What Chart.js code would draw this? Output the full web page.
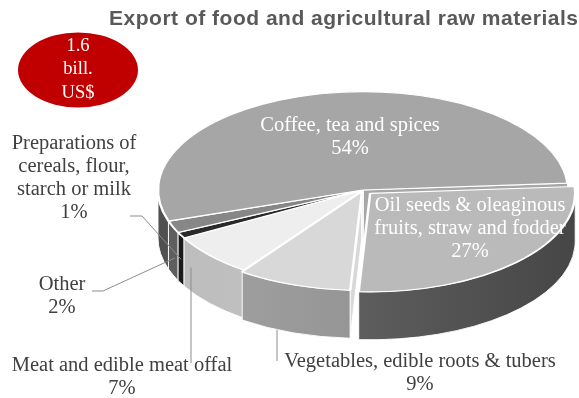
<!DOCTYPE html>
<html>
<head>
<meta charset="utf-8">
<script src="https://cdn.jsdelivr.net/npm/chart.js@4/dist/chart.umd.min.js"></script>
<style>
  html, body { margin: 0; padding: 0; background: #fff; }
  #wrap { width: 579px; height: 398px; }
</style>
</head>
<body>
<div id="wrap"><canvas id="chart" width="579" height="398"></canvas></div>
<script>
(() => {
  'use strict'

  const chartTitle = 'Export of food and agricultural raw materials';

  // slices, clockwise from the right-hand edge
  const categories = [
    'Oil seeds & oleaginous fruits, straw and fodder',
    'Vegetables, edible roots & tubers',
    'Meat and edible meat offal',
    'Preparations of cereals, flour, starch or milk',
    'Other',
    'Coffee, tea and spices'
  ];
  const shares = [27, 9, 7, 1, 2, 54];
  const totalExport = '1.6 bill. US$';

  const labelLines = [
    ['Oil seeds & oleaginous', 'fruits, straw and fodder'],
    ['Vegetables, edible roots & tubers'],
    ['Meat and edible meat offal'],
    ['Preparations of', 'cereals, flour,', 'starch or milk'],
    ['Other'],
    ['Coffee, tea and spices']
  ];

  const topColors = ['#bababa', '#d8d8d8', '#eeeeee', '#2a2a2a', '#878787', '#a6a6a6'];
  const wallColors = [
    ['#727272', '#464646'],
    ['#a4a4a4', '#858585'],
    ['#bcbcbc', '#cdcdcd'],
    ['#1c1c1c', '#111111'],
    ['#5e5e5e', '#5e5e5e'],
    ['#505050', '#505050']
  ];
  const explode = [40, 12, 0, 0, 0, 0];

  const TILT = 0.48;
  const DEPTH = 48;
  const TEXT = '#404040';
  const SERIF = '"Liberation Serif", "Times New Roman", serif';
  const LINE = 23;

  // where each label sits; leaders end on the slice wall
  const labelLayout = [
    { x: 470, y: 206, inside: true },
    { x: 420, y: 362, leader: { x: 277, from: 361, depth: 1 } },
    { x: 122, y: 366, leader: { x: 191, from: 363, depth: 0.5 } },
    { x: 74, y: 144, leader: { pts: [[130, 216], [142, 216]], frac: 0.5, depth: 0.5 } },
    { x: 62, y: 285, leader: { pts: [[92, 291], [103, 291]], frac: 0.3, depth: 0.6 } },
    { x: 350, y: 126, inside: true }
  ];

  function arcGeom(arc) {
    // same shift ArcElement.draw applies for the offset option
    const p = arc.getProps(['x', 'y', 'startAngle', 'endAngle', 'outerRadius', 'circumference'], true);
    const off = (arc.options.offset || 0) / 4;
    const fix = 1 - Math.sin(Math.min(Math.PI, p.circumference || 0));
    const mid = (p.startAngle + p.endAngle) / 2;
    const t = off + off * fix;
    return {
      cx: p.x + Math.cos(mid) * t,
      cy: p.y + Math.sin(mid) * t * TILT,
      r: p.outerRadius,
      a0: p.startAngle,
      a1: p.endAngle,
      mid: mid
    };
  }

  function rim(g, a) {
    return [g.cx + g.r * Math.cos(a), g.cy + g.r * TILT * Math.sin(a)];
  }

  function wallFill(ctx, g, i) {
    const grad = ctx.createLinearGradient(g.cx - g.r, 0, g.cx + g.r, 0);
    grad.addColorStop(0, wallColors[i][0]);
    grad.addColorStop(1, wallColors[i][1]);
    return grad;
  }

  function drawWall(ctx, g, from, to) {
    ctx.beginPath();
    ctx.ellipse(g.cx, g.cy, g.r, g.r * TILT, 0, from, to);
    ctx.ellipse(g.cx, g.cy + DEPTH, g.r, g.r * TILT, 0, to, from, true);
    ctx.closePath();
    ctx.fill();
    ctx.stroke();
  }

  function drawCut(ctx, g, a) {
    const [x, y] = rim(g, a);
    ctx.beginPath();
    ctx.moveTo(g.cx, g.cy);
    ctx.lineTo(x, y);
    ctx.lineTo(x, y + DEPTH);
    ctx.lineTo(g.cx, g.cy + DEPTH);
    ctx.closePath();
    ctx.fill();
    ctx.stroke();
  }

  const pie3d = {
    id: 'pie3d',
    beforeDatasetsDraw(chart) {
      const ctx = chart.ctx;
      const arcs = chart.getDatasetMeta(0).data;
      const geoms = arcs.map(arcGeom);
      const order = geoms.map((g, i) => i).sort((a, b) => Math.sin(geoms[a].mid) - Math.sin(geoms[b].mid));

      ctx.save();
      ctx.strokeStyle = 'rgba(255,255,255,0.9)';
      ctx.lineWidth = 1;
      ctx.lineJoin = 'round';
      order.forEach(i => {
        const g = geoms[i];
        ctx.fillStyle = topColors[i];
        if (Math.cos(g.a0) < 0) drawCut(ctx, g, g.a0);
        if (Math.cos(g.a1) > 0) drawCut(ctx, g, g.a1);
        ctx.fillStyle = wallFill(ctx, g, i);
        // front half of the rim, in every turn the angles may fall into
        [-2, 0, 2].forEach(k => {
          const lo = Math.max(g.a0, k * Math.PI);
          const hi = Math.min(g.a1, (k + 1) * Math.PI);
          if (hi > lo) drawWall(ctx, g, lo, hi);
        });
      });
      ctx.restore();

      // squash the library's own arcs into the tilted top face
      const cy = (chart.chartArea.top + chart.chartArea.bottom) / 2;
      ctx.save();
      ctx.translate(0, cy);
      ctx.scale(1, TILT);
      ctx.translate(0, -cy);
    },
    afterDatasetsDraw(chart) {
      const ctx = chart.ctx;
      ctx.restore();

      const geoms = chart.getDatasetMeta(0).data.map(arcGeom);
      ctx.save();
      ctx.textAlign = 'center';
      ctx.textBaseline = 'middle';
      ctx.font = '20.5px ' + SERIF;

      labelLayout.forEach((lay, i) => {
        const g = geoms[i];
        const lines = labelLines[i].concat([shares[i] + '%']);
        ctx.fillStyle = lay.inside ? '#ffffff' : TEXT;
        lines.forEach((line, j) => ctx.fillText(line, lay.x, lay.y + j * LINE));

        const ld = lay.leader;
        if (!ld) return;
        let pts;
        if (ld.x !== undefined) {
          // vertical leader, meets the wall where the rim passes its x
          const a = Math.acos(Math.max(-1, Math.min(1, (ld.x - g.cx) / g.r)));
          const y = rim(g, a)[1] + DEPTH * ld.depth;
          pts = [[ld.x, ld.from], [ld.x, y]];
        } else {
          const a = g.a0 + (g.a1 - g.a0) * ld.frac;
          const p = rim(g, a);
          pts = ld.pts.concat([[p[0], p[1] + DEPTH * ld.depth]]);
        }
        ctx.strokeStyle = '#8c8c8c';
        ctx.lineWidth = 1;
        ctx.beginPath();
        pts.forEach((p, j) => j ? ctx.lineTo(p[0], p[1]) : ctx.moveTo(p[0], p[1]));
        ctx.stroke();
      });

      // total badge
      ctx.fillStyle = '#c00000';
      ctx.beginPath();
      ctx.ellipse(78, 70, 60, 37.5, 0, 0, Math.PI * 2);
      ctx.fill();
      ctx.fillStyle = '#ffffff';
      ctx.font = '18.5px ' + SERIF;
      totalExport.split(' ').forEach((w, j) => ctx.fillText(w, 78, 46 + j * 23.5));

      // title, right-aligned over the pie
      ctx.textAlign = 'right';
      ctx.fillStyle = '#595959';
      ctx.font = 'bold 21px "Liberation Sans", Arial, sans-serif';
      ctx.letterSpacing = '0.5px';
      ctx.fillText(chartTitle, 578.5, 19);
      ctx.restore();
    }
  };

  new Chart(document.getElementById('chart'), {
    type: 'pie',
    data: {
      labels: categories,
      datasets: [{
        data: shares,
        backgroundColor: topColors,
        borderColor: '#ffffff',
        borderWidth: 2.5,
        offset: explode,
        hoverOffset: 0
      }]
    },
    options: {
      responsive: false,
      animation: false,
      rotation: 86,
      radius: 205,
      layout: { padding: { left: 149, right: 2, top: 0, bottom: 18 } },
      events: [],
      plugins: {
        legend: { display: false },
        tooltip: { enabled: false },
        title: { display: false }
      }
    },
    plugins: [pie3d]
  });
})()
</script>
</body>
</html>
